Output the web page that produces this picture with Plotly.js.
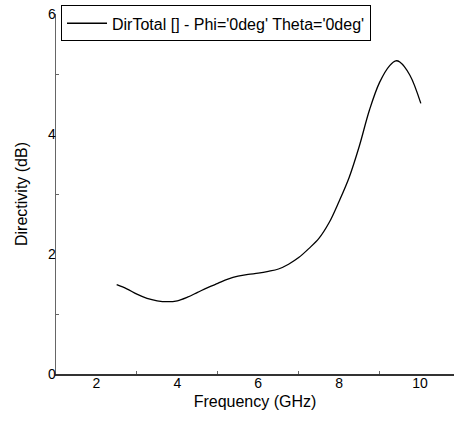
<!DOCTYPE html>
<html>
<head>
<meta charset="utf-8">
<script src="https://cdn.plot.ly/plotly-3.0.1.min.js"></script>
<style>html,body{margin:0;padding:0;background:#fff;}#chart{width:454px;height:421px;}</style>
</head>
<body>
<div id="chart"></div>
<script>
const freqGHz = [2.5, 2.75, 3.0, 3.25, 3.5, 3.75, 4.0, 4.25, 4.5, 4.75, 5.0, 5.25, 5.5, 5.75, 6.0, 6.25, 6.5, 6.75, 7.0, 7.25, 7.5, 7.75, 8.0, 8.25, 8.5, 8.75, 9.0, 9.25, 9.4, 9.5, 9.75, 10.02];
const directivity = [1.49, 1.42, 1.33, 1.26, 1.22, 1.205, 1.22, 1.28, 1.36, 1.44, 1.51, 1.58, 1.63, 1.66, 1.68, 1.71, 1.75, 1.83, 1.94, 2.09, 2.26, 2.52, 2.88, 3.28, 3.80, 4.40, 4.86, 5.14, 5.22, 5.20, 4.98, 4.51];
const seriesName = "DirTotal [] - Phi='0deg' Theta='0deg'";
const xTitle = "Frequency (GHz)";
const yTitle = "Directivity (dB)";

const trace = {
  x: freqGHz, y: directivity, type: 'scatter', mode: 'lines', name: seriesName,
  line: {color: '#000', width: 1.3, shape: 'spline', smoothing: 1}
};
const font = {family: 'Liberation Sans, Arial, sans-serif', color: '#000'};
const layout = {
  width: 454, height: 421,
  margin: {l: 56, r: 0, t: 14, b: 47},
  paper_bgcolor: '#fff', plot_bgcolor: '#fff',
  font: Object.assign({size: 12}, font),
  showlegend: true,
  legend: {x: 0.0126, y: 1.024, xanchor: 'left', yanchor: 'top', bordercolor: '#000', borderwidth: 1,
           bgcolor: '#fff', font: Object.assign({size: 16}, font), itemwidth: 40, tracegroupgap: 0},
  xaxis: {
    range: [1, 10.84], tickvals: [2, 4, 6, 8, 10], ticks: '', showgrid: false, zeroline: false,
    showline: true, linecolor: '#333', linewidth: 1.5, ticklabelstandoff: -4,
    minor: {tickvals: [3, 5, 7, 9], ticks: 'inside', ticklen: 3, tickcolor: '#666'},
    tickfont: Object.assign({size: 14}, font),
    title: {text: xTitle, font: Object.assign({size: 16}, font), standoff: 5}
  },
  yaxis: {
    range: [0, 6], tickvals: [0, 2, 4, 6], ticks: '', showgrid: false, zeroline: false,
    showline: true, linecolor: '#666', linewidth: 1.5, ticklabelstandoff: -4,
    minor: {tickvals: [1, 3, 5], ticks: 'inside', ticklen: 3, tickcolor: '#666'},
    tickfont: Object.assign({size: 14}, font),
    title: {text: yTitle, font: Object.assign({size: 16}, font), standoff: 16}
  }
};
Plotly.newPlot('chart', [trace], layout, {displayModeBar: false, staticPlot: true});
</script>
</body>
</html>
